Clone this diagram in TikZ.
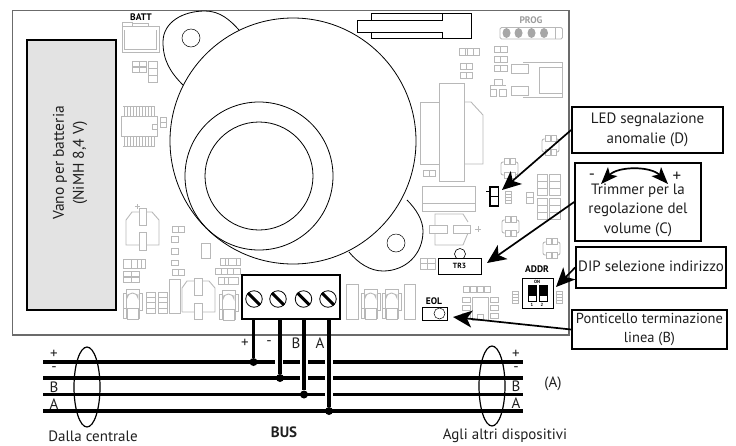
\documentclass[tikz,border=0pt]{standalone}
\usepackage{fontspec}
\setmainfont{PT Sans}
\usetikzlibrary{arrows.meta}
\definecolor{pcb}{gray}{0.72}
\definecolor{board}{gray}{0.42}
\definecolor{batt}{gray}{0.89}
\definecolor{txt}{gray}{0.12}
\tikzset{
  part/.style={draw=pcb,line width=0.9pt},
  ink/.style={draw=black,line width=0.8pt},
  callout/.style={draw=black,line width=1.7pt,fill=white,align=center,text=txt,inner sep=0pt,font=\fontsize{15}{19.5}\selectfont},
  label/.style={text=txt,inner sep=0pt,font=\fontsize{15}{15}\selectfont},
  silk/.style={text=black,inner sep=0pt,font=\fontsize{9.5}{10}\selectfont\bfseries},
  pointer/.style={draw=black,line width=1.7pt,-{Stealth[length=19pt,width=17pt,inset=5pt]}},
  buswire/.style={draw=black,line width=3.2pt},
  tap/.style={draw=black,line width=3.6pt},
  junction/.style={circle,fill=black,inner sep=0pt,minimum size=8pt}
}
\newcommand{\padH}[4]{\draw[part] (#1,#2) rectangle (#3,#4); \draw[part] ({(#1+#3)/2},#2) -- ({(#1+#3)/2},#4);}
\newcommand{\padV}[4]{\draw[part] (#1,#2) rectangle (#3,#4); \draw[part] (#1,{(#2+#4)/2}) -- (#3,{(#2+#4)/2});}
\newcommand{\xtal}[2]{%
  \draw[part,rounded corners=2pt] (#1,#2+4) rectangle (#1+17,#2+17);
  \draw[part,fill=white] (#1+3,#2) rectangle (#1+8,#2+6);
  \draw[part,fill=white] (#1+9,#2) rectangle (#1+14,#2+6);
  \draw[part,fill=white] (#1+3,#2+14) rectangle (#1+8,#2+20);
  \draw[part,fill=white] (#1+9,#2+14) rectangle (#1+14,#2+20);}
\newcommand{\diodepart}[2]{%
  \draw[part] (#1+3,#2+3) rectangle (#1+16,#2+32);
  \draw[part] (#1,#2+7) -- (#1+3,#2+7) (#1,#2+22) -- (#1+3,#2+22) (#1,#2+7) -- (#1,#2+32) -- (#1+3,#2+32);
  \draw[part] (#1+16,#2+7) -- (#1+19,#2+7) -- (#1+19,#2+24) -- (#1+16,#2+24);
  \draw[part] (#1+4,#2+8) -- (#1+4,#2+12) arc[start angle=180,end angle=360,x radius=5.5,y radius=5] -- (#1+15,#2+8);
  \draw[part,fill=white] (#1+4,#2+22) rectangle (#1+15,#2+33);}
\begin{document}
\begin{tikzpicture}[x=1pt,y=-1pt]
\useasboundingbox (0,0) rectangle (736,445);
% board
\draw[draw=board,line width=1.2pt] (12.5,10.5) rectangle (569,335);
% battery bay
\draw[draw=black,line width=1.2pt,fill=batt] (27,40) rectangle (116,310);
\node[rotate=90,align=center,label,font=\fontsize{15.5}{20}\selectfont] (bay) at (70,163) {Vano per batteria\\(NiMH 8,4 V)};
% speaker
\draw[ink] (293,141) circle[radius=123];
\draw[ink] (259,176) circle[radius=74];
\draw[ink] (259,176) circle[radius=54];
\draw[ink] (183,85) .. controls (170,72) and (163,60) .. (163,42) .. controls (163,22) and (183,11) .. (205,11) .. controls (220,11) and (230,20) .. (239,30);
\draw[ink,line width=0.5pt] (191,38) circle[radius=9];
\draw[ink] (349,252) .. controls (358,263) and (370,271) .. (383,271) .. controls (405,271) and (423,255) .. (423,231) .. controls (423,220) and (416,209) .. (407,200);
\draw[ink,line width=0.5pt] (396,243) circle[radius=9];
% top connector
\draw[ink] (371,20) -- (357,20) -- (357,32.5) -- (371,32.5) -- (371,38.5) -- (471,38.5) -- (471,13.5) -- (371,13.5) -- cycle;
\draw[ink] (371,20) -- (442,20) -- (442,13.5) (371,32.5) -- (442,32.5) -- (442,38.5);
% BATT connector
\node[silk] (battlabel) at (141,17) {BATT};
\draw[part] (122,26) rectangle (159,52);
\draw[part] (124.5,30) -- (124.5,49) -- (156.5,49) -- (156.5,30);
\draw[part] (122.5,26) -- (122.5,22.5) -- (132,22.5) -- (132,26) (132,23) -- (148,23) -- (148,26);
\foreach \y in {61,67}{\padH{132}{\y}{146}{\y+5.5}}
\padV{148}{61}{157}{75}
\draw[part] (148,75) rectangle (157,82);
% IC left
\draw[part] (121,116) rectangle (157,136);
\draw[part] (152,124) rectangle (157,129);
\foreach \x in {124,127,...,154}{\draw[part] (\x,106.5) -- (\x,116) (\x,137) -- (\x,146.5);}
\draw[part] (123,106.5) -- (155,106.5) (123,146.5) -- (155,146.5);
\padV{160}{117}{166}{127.5}
% left lower parts
\draw[part] (139,208) rectangle (146,225);
\draw[part] (139,232) rectangle (146,250);
\draw[part] (139,212) -- (132,212) -- (126,220) -- (126,245) -- (139,245) (146,212) -- (152,212) -- (159,220) -- (159,245) -- (146,245);
\draw[part] (137,204) -- (137,209) (134.5,206.5) -- (139.5,206.5);
\padH{172}{226}{184}{232}
\draw[part] (171,236) rectangle (178,242);
\draw[part] (171,248) rectangle (178,254);
\draw[part] (171,260) rectangle (178,265);
\padH{172}{269}{184}{275}
\draw[part] (201,243) rectangle (210,258);
\draw[part] (123,259) rectangle (145,268);
\draw[part] (131,259) -- (131,268) (137,259) -- (137,268) (141,259) -- (141,268);
\padH{123}{271}{139}{276} \padH{123}{277}{139}{282}
\diodepart{123}{286}
\padV{146}{292}{155}{313}
\draw[part] (146,297) -- (155,297) (146,308) -- (155,308);
\padV{158}{292}{167}{313}
\draw[part] (158,297) -- (167,297) (158,308) -- (167,308);
\draw[part] (169,279) rectangle (180,313);
\draw[part] (182,312) -- (182,288) -- (187,281) -- (194,281) (202,281) -- (209,281) -- (215,288) -- (215,312) -- (182,312);
\draw[part,fill=white] (194,278) rectangle (202,295);
\draw[part,fill=white] (194,303) rectangle (202,319);
\draw[part] (220,258) rectangle (240,265);
\draw[part] (225,258) -- (225,265) (228,258) -- (228,265) (236,258) -- (236,265);
\draw[part] (215,268) rectangle (240,274);
\foreach \x in {221,227,233}{\draw[part] (\x,268) -- (\x,274);}
\draw[part] (218,277) rectangle (238,284);
\draw[part] (224,277) -- (224,284) (228,277) -- (228,284);
\diodepart{219}{287}
% right of terminal
\draw[part] (346,284) rectangle (358,319);
\diodepart{361}{286}
\diodepart{382}{286}
\draw[part] (404,284) rectangle (415,319);
% terminal block
\node[draw=black,line width=1.3pt,fill=white,minimum width=98pt,minimum height=44pt,inner sep=0pt] (term) at (291,297) {};
\foreach \n/\x in {s1/254,s2/278,s3/303.5,s4/328}{
  \node[circle,draw=black,line width=0.8pt,fill=white,minimum size=16.5pt,inner sep=0pt] (\n) at (\x,299) {};
  \draw[line width=3pt] (\n.135) -- (\n.-45);
}
% EOL
\node[silk] (eollabel) at (434,301) {EOL};
\node[draw=black,line width=1pt,minimum width=25pt,minimum height=13pt,inner sep=0pt] (eol) at (434.5,313.5) {};
\draw[ink,line width=0.5pt] (439.5,313.5) circle[radius=5.5];
% TR3
\draw[ink,line width=0.6pt] (460,254) circle[radius=5.5];
\node[draw=black,line width=1pt,fill=white,minimum width=43pt,minimum height=16pt,inner sep=0pt,font=\fontsize{7.5}{8}\selectfont\bfseries] (tr) at (459.5,266) {TR3};
\padH{420}{258}{435}{263.5} \padH{420}{263.5}{435}{269}
% capacitor right
\draw[part] (435,233) -- (435,245) -- (463,245) -- (468,233) (435,225) -- (435,214) -- (463,214) -- (468,222);
\draw[part,fill=white] (429,225) rectangle (447,233);
\draw[part,fill=white] (453,225) rectangle (470,233);
\draw[part] (478,226) -- (478,232) (475,229) -- (481,229);
\draw[part] (422,186) rectangle (475,211);
\draw[part] (422,203) -- (475,203);
% transformer
\draw[part] (420,102) rectangle (439,164);
\draw[part] (464,102) -- (471,102) -- (483,115) -- (483,164) -- (464,164);
\draw[part] (439,83) rectangle (464,181);
\padH{423}{170}{435}{176}
% upper right
\draw[part] (459,48) rectangle (479,55);
\draw[part] (465,48) -- (465,55) (467,48) -- (467,55) (473,48) -- (473,55);
\padH{460}{63}{472}{69} \padH{460}{72}{472}{78}
\padH{494}{46}{507}{52} \padH{494}{56}{507}{62} \padH{494}{65}{507}{71}
\draw[part] (511,64) rectangle (528,73);
\draw[part] (511,86) rectangle (528,95);
\draw[part] (523,62) -- (562,62) -- (562,97) -- (523,97);
\draw[part] (562,67) -- (539,67) -- (539,93) -- (562,93);
\draw[part] (494,79) rectangle (502,85);
\draw[part] (490,85) -- (506,85) (490,85) -- (490,96);
\draw[part] (490,89) rectangle (496,96);
\draw[part] (499,89) rectangle (506,96);
% PROG header
\node[text=pcb!85!black,inner sep=0pt,font=\fontsize{9.5}{10}\selectfont\bfseries] (proglabel) at (531,20) {PROG};
\draw[part,rounded corners=1.5pt] (500,27.5) rectangle (562.5,39);
\draw[part] (555,27.5) -- (555,39);
\foreach \x in {506.5,518.5,531.5,544}{\fill[gray!70] (\x,33) ellipse[x radius=4,y radius=5];}
% LED
\draw[draw=black,line width=1.5pt] (490,187) rectangle (498.5,206);
\draw[draw=black,line width=1.5pt] (490,196.5) -- (498.5,196.5);
\draw[draw=black,line width=0.9pt] (486,191) -- (490,191);
\padV{505}{191}{511}{197} \padV{505}{197}{511}{203}
\padV{526}{192}{533}{203}
\foreach \x/\xx in {537/547,549/560}{
  \draw[part] (\x,174) rectangle (\xx,195);
  \draw[part] (\x,181) -- (\xx,181) (\x,188) -- (\xx,188);
  \draw[part] (\x,198) rectangle (\xx,219);
  \draw[part] (\x,205) -- (\xx,205) (\x,212) -- (\xx,212);
}
\xtal{501}{158} \xtal{502}{216} \xtal{543}{238} \xtal{542}{135}
% DIP
\node[silk] (addrlabel) at (537,269) {ADDR};
\node[draw=black,line width=1pt,minimum width=31pt,minimum height=30pt,inner sep=0pt] (dip) at (537.5,293) {};
\foreach \x in {528,539}{
  \draw[draw=black,line width=1pt] (\x,285) rectangle (\x+8,301);
  \fill[black] (\x,285) rectangle (\x+8,296);
}
\node[inner sep=0pt,font=\fontsize{4.5}{5}\selectfont\bfseries] (dipon) at (537,282) {ON};
\node[inner sep=0pt,font=\fontsize{4.5}{5}\selectfont\bfseries] (dipa) at (532,305) {1};
\node[inner sep=0pt,font=\fontsize{4.5}{5}\selectfont\bfseries] (dipb) at (542,305) {2};
\padV{512}{291}{518}{297} \padV{512}{297}{518}{303}
\padV{556}{291}{562}{297} \padV{556}{297}{562}{303}
% lower IC
\foreach \x in {463,470,477,484}{\draw[part] (\x,286) rectangle (\x+6.5,292);}
\draw[part] (472,297) rectangle (488,320);
\draw[part] (477,314) rectangle (483,320);
\foreach \y in {297,305,313}{
  \draw[part] (462,\y) rectangle (470,\y+5.5);
  \draw[part] (490,\y) rectangle (498,\y+5.5);
}
% bus
\foreach \n/\y in {a/362,b/378,c/394.5,d/411}{
  \coordinate (l\n) at (43,\y);
  \coordinate (r\n) at (523,\y);
}
\draw[buswire] (la) -- (275,362) (283,362) -- (300,362) (308,362) -- (325,362) (333,362) -- (ra);
\draw[buswire] (lb) -- (300,378) (308,378) -- (325,378) (333,378) -- (rb);
\draw[buswire] (lc) -- (325,394.5) (333,394.5) -- (rc);
\draw[buswire] (ld) -- (rd);
\node[junction] (ja) at (253.5,362) {};
\node[junction] (jb) at (280,378) {};
\node[junction] (jc) at (304,394.5) {};
\node[junction] (jd) at (329,411) {};
\coordinate (ta) at (253.5,319); \coordinate (tb) at (280,319);
\coordinate (tc) at (304,319); \coordinate (td) at (329,319);
\draw[tap] (ta) -- (ja); \draw[tap] (tb) -- (jb); \draw[tap] (tc) -- (jc); \draw[tap] (td) -- (jd);
\draw[draw=black,line width=1.2pt] (87,387) ellipse[x radius=13,y radius=40];
\draw[draw=black,line width=1.2pt] (492,386) ellipse[x radius=13,y radius=40];
% bus labels
\node[label] (lp) at (54,354) {+};
\node[label] (lm) at (54,369) {-};
\node[label] (lB) at (54,387.5) {B};
\node[label] (lA) at (54,404.5) {A};
\node[label] (rp) at (516,354.5) {+};
\node[label] (rm) at (516,369) {-};
\node[label] (rB) at (516,386) {B};
\node[label] (rA) at (516,403) {A};
\node[label] (tp) at (245,343) {+};
\node[label] (tm) at (269,343) {-};
\node[label] (tB) at (296,343.5) {B};
\node[label] (tA) at (320,343.5) {A};
\node[label] (aa) at (553,384) {(A)};
\node[label] (dalla) at (93,436) {Dalla centrale};
\node[label,font=\fontsize{15}{15}\selectfont\bfseries] (bus) at (284,432) {BUS};
\node[label] (agli) at (505,435.5) {Agli altri dispositivi};
% callouts
\node[callout,minimum width=151pt,minimum height=46pt] (led) at (647.5,130) {LED segnalazione\\anomalie (D)};
\node[callout,minimum width=126pt,minimum height=78pt] (trim) at (638,202) {};
\node[label,font=\fontsize{15}{19.5}\selectfont,align=center] (trimtext) at (638,210) {Trimmer per la\\regolazione del\\volume (C)};
\node[label,font=\fontsize{17}{17}\selectfont] (tminus) at (592,177) {-};
\node[label,font=\fontsize{17}{17}\selectfont] (tplus) at (677,177) {+};
\node[callout,minimum width=150pt,minimum height=41pt] (dipbox) at (651,267.5) {};
\node[label] (diptext) at (651,266) {DIP selezione indirizzo};
\node[callout,minimum width=155pt,minimum height=39pt,font=\fontsize{14.5}{19.5}\selectfont] (pont) at (649.5,329.5) {Ponticello terminazione\\linea (B)};
\coordinate (ledtip) at (502,190);
\coordinate (trtip) at (487,263);
\coordinate (diptip) at (556,287);
\coordinate (eoltip) at (453,317);
\coordinate (arcl) at (601,184);
\coordinate (arcr) at (668,184);
\draw[pointer] (led.west) -- (ledtip);
\draw[pointer] (trim.west) -- (trtip);
\draw[pointer] (dipbox.west) -- (diptip);
\draw[pointer] (pont.west) -- (eoltip);
\draw[draw=black,line width=1.7pt,{Stealth[length=17pt,width=13pt,inset=4pt]}-{Stealth[length=17pt,width=13pt,inset=4pt]}] (arcl) .. controls (618,166) and (651,166) .. (arcr);
\end{tikzpicture}
\end{document}
